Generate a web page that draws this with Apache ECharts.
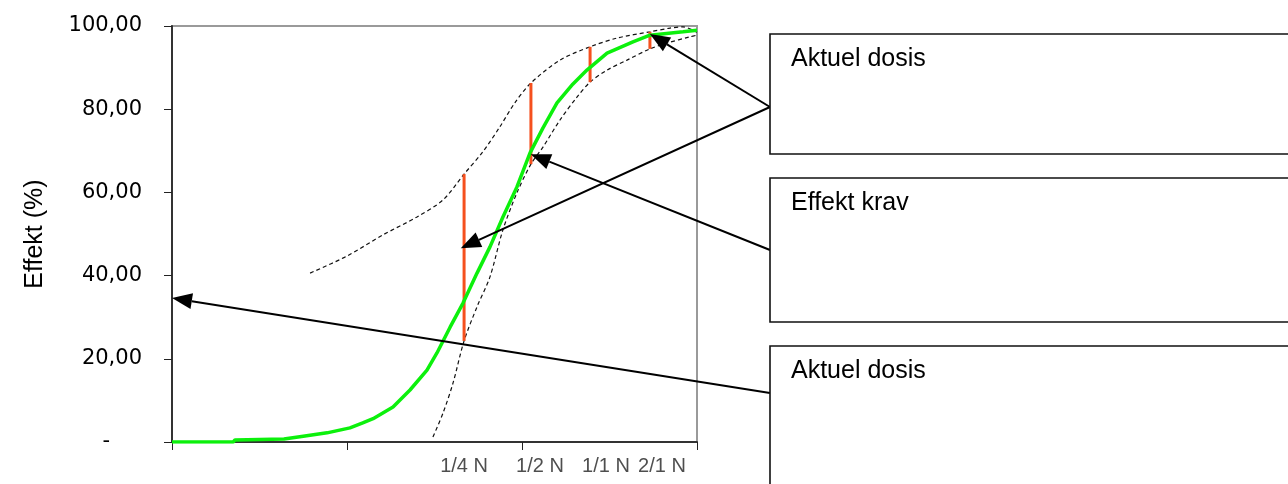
<!DOCTYPE html>
<html>
<head>
<meta charset="utf-8">
<script src="https://cdn.jsdelivr.net/npm/echarts@6/dist/echarts.min.js"></script>
<style>
  html, body { margin: 0; padding: 0; background: #fff; }
  #chart { width: 1288px; height: 484px; }
</style>
</head>
<body>
<div id="chart"></div>
<script>
// Dose axis runs 0..3 (log-scaled dose), effect in percent.
const effectCurve = [
  [0, 0], [0.35, 0], [0.36, 0.5], [0.64, 0.7], [0.75, 1.4], [0.886, 2.2],
  [1.017, 3.4], [1.09, 4.6], [1.149, 5.6], [1.263, 8.4], [1.36, 12.5],
  [1.457, 17.3], [1.514, 21.4], [1.589, 27.6], [1.663, 33.4], [1.743, 40.6],
  [1.817, 46.9], [1.891, 54.1], [1.971, 61.3], [2.046, 69.5], [2.12, 75.5],
  [2.2, 81.5], [2.29, 86.0], [2.371, 89.4], [2.486, 93.5], [2.634, 96.2],
  [2.731, 97.8], [2.92, 98.6], [3.0, 99.0]
];

const upperBound = [
  [0.789, 40.6], [1.0, 44.7], [1.206, 49.8], [1.4, 54.1], [1.549, 58.2],
  [1.669, 64.4], [1.777, 69.8], [1.874, 75.8], [1.96, 81.6], [2.051, 86.3],
  [2.217, 91.8], [2.389, 95.0], [2.543, 97.1], [2.731, 98.6], [2.846, 99.5],
  [2.92, 99.8], [3.0, 98.5]
];

const lowerBound = [
  [1.491, 1.2], [1.549, 7.0], [1.606, 14.2], [1.669, 24.3], [1.743, 32.5],
  [1.817, 39.7], [1.891, 51.0], [1.971, 59.9], [2.051, 66.8], [2.12, 70.9],
  [2.217, 77.4], [2.314, 82.9], [2.389, 86.5], [2.486, 89.4], [2.6, 91.8],
  [2.731, 94.5], [2.829, 95.9], [2.96, 97.4], [3.0, 97.8]
];

// Requirement ranges at each dose level: [dose, high, low]
const requirementRanges = [
  [1.669, 64.4, 24.3],
  [2.051, 86.3, 66.8],
  [2.389, 95.0, 86.5],
  [2.731, 98.6, 94.5]
];

const doseLabels = ['1/4 N', '1/2 N', '1/1 N', '2/1 N'];
const doseLabelPos = [1.669, 2.103, 2.48, 2.8];

const yTicks = [0, 20, 40, 60, 80, 100];

// Callout boxes and the points their arrows lead to (data coordinates)
const calloutTexts = ['Aktuel dosis', 'Effekt krav', 'Aktuel dosis'];
const calloutTargets = [
  [[2.731, 98.1], [1.65, 46.6]],
  [[2.05, 69.2]],
  [[0, 34.6]]
];

const chart = echarts.init(document.getElementById('chart'), null, { renderer: 'canvas' });

const fontFamily = 'Liberation Sans, Arial, sans-serif';

const option = {
  animation: false,
  backgroundColor: '#fff',
  grid: {
    left: 172, top: 26, right: 591, bottom: 42,
    show: true, borderColor: '#9a9a9a', borderWidth: 2, backgroundColor: 'transparent'
  },
  xAxis: {
    type: 'value', min: 0, max: 3, interval: 1,
    axisLine: { show: true, onZero: false, lineStyle: { color: '#333', width: 2 } },
    axisTick: { show: true, inside: false, length: 8, lineStyle: { color: '#222', width: 1 } },
    axisLabel: { show: false },
    splitLine: { show: false }
  },
  yAxis: {
    type: 'value', min: yTicks[0], max: yTicks[yTicks.length - 1], interval: 20,
    name: 'Effekt (%)', nameLocation: 'middle', nameRotate: 90, nameGap: 124,
    nameTextStyle: { fontFamily, fontSize: 25, color: '#000' },
    axisLine: { show: true, lineStyle: { color: '#333', width: 2 } },
    axisTick: { show: true, inside: false, length: 8, lineStyle: { color: '#222', width: 1 } },
    axisLabel: {
      margin: 30, fontFamily: 'DejaVu Sans, sans-serif', fontSize: 21, color: '#000',
      formatter: v => v === 0 ? '{dash|-}' : v.toFixed(2).replace('.', ','),
      rich: { dash: { fontFamily: 'DejaVu Sans, sans-serif', fontSize: 21, color: '#000', padding: [0, 32, 0, 0] } }
    },
    splitLine: { show: false }
  },
  series: [
    {
      type: 'line', data: upperBound, showSymbol: false, smooth: 0.3,
      lineStyle: { color: '#111', width: 1.2, type: [4, 3] }, z: 2
    },
    {
      type: 'line', data: lowerBound, showSymbol: false, smooth: 0.3,
      lineStyle: { color: '#111', width: 1.2, type: [4, 3] }, z: 2
    },
    {
      type: 'custom', data: requirementRanges, z: 3,
      renderItem: (params, api) => {
        const top = api.coord([api.value(0), api.value(1)]);
        const bot = api.coord([api.value(0), api.value(2)]);
        return {
          type: 'line',
          shape: { x1: top[0], y1: top[1], x2: bot[0], y2: bot[1] },
          style: { stroke: '#f5501e', lineWidth: 3 }
        };
      }
    },
    {
      type: 'line', data: effectCurve, showSymbol: false,
      lineStyle: { color: '#0cf00c', width: 3.5 }, z: 4
    },
    {
      type: 'scatter', symbolSize: 0, z: 5,
      data: doseLabels.map((n, i) => ({ name: n, value: [doseLabelPos[i], 0] })),
      label: {
        show: true, position: 'bottom', distance: 14, formatter: '{b}',
        fontFamily, fontSize: 20, color: '#222'
      },
      silent: true
    }
  ]
};

chart.setOption(option);

// Callout boxes (page layout) and arrows aimed at data points
const boxes = [
  { x: 770, y: 34, h: 120, ax: 770, ay: 107 },
  { x: 770, y: 178, h: 144, ax: 770, ay: 250 },
  { x: 770, y: 346, h: 150, ax: 770, ay: 393 }
];

const graphics = [];
boxes.forEach((b, i) => {
  graphics.push({
    type: 'rect', shape: { x: b.x, y: b.y, width: 540, height: b.h },
    style: { fill: '#fff', stroke: '#111', lineWidth: 1.6 }, z: 10
  });
  graphics.push({
    type: 'text', x: b.x + 21, y: b.y + 13,
    style: { text: calloutTexts[i], font: '25px ' + fontFamily, fill: '#000' }, z: 11
  });
  calloutTargets[i].forEach(t => {
    const p = chart.convertToPixel({ xAxisIndex: 0, yAxisIndex: 0 }, t);
    const dx = p[0] - b.ax, dy = p[1] - b.ay;
    const len = Math.sqrt(dx * dx + dy * dy);
    const ux = dx / len, uy = dy / len;
    const headLen = 20, headHalf = 8;
    const bx = p[0] - ux * headLen, by = p[1] - uy * headLen;
    graphics.push({
      type: 'line', shape: { x1: b.ax, y1: b.ay, x2: bx, y2: by },
      style: { stroke: '#000', lineWidth: 2 }, z: 9
    });
    graphics.push({
      type: 'polygon',
      shape: { points: [[p[0], p[1]], [bx - uy * headHalf, by + ux * headHalf], [bx + uy * headHalf, by - ux * headHalf]] },
      style: { fill: '#000' }, z: 9
    });
  });
});

chart.setOption({ graphic: graphics });
</script>
</body>
</html>
